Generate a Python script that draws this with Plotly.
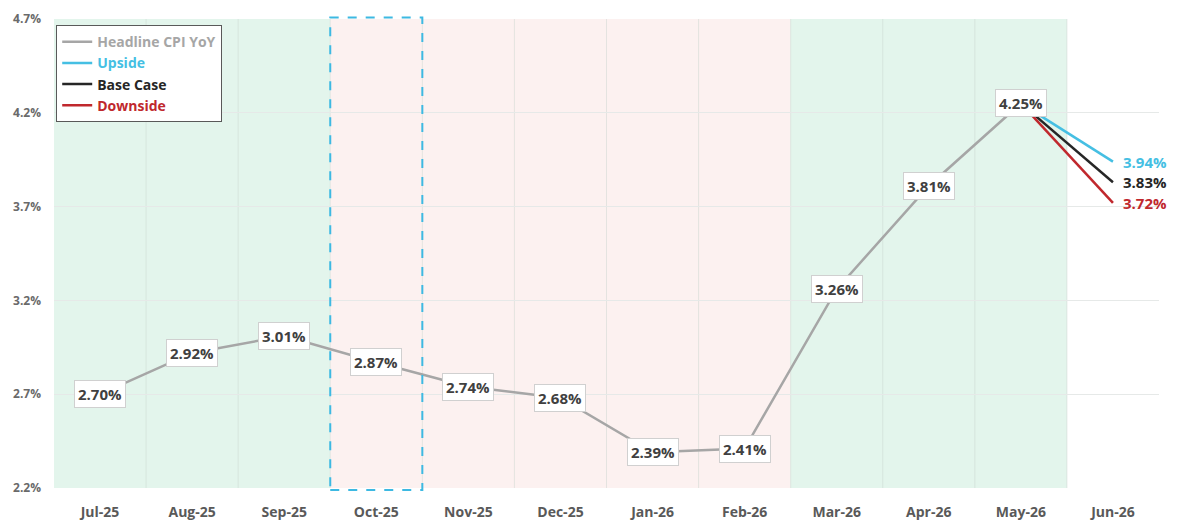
import plotly.graph_objects as go

months = ["Jul-25", "Aug-25", "Sep-25", "Oct-25", "Nov-25", "Dec-25",
          "Jan-26", "Feb-26", "Mar-26", "Apr-26", "May-26", "Jun-26"]
headline = [2.70, 2.92, 3.01, 2.87, 2.74, 2.68, 2.39, 2.41, 3.26, 3.81, 4.25]
scen_x = ["May-26", "Jun-26"]
upside = [4.25, 3.94]
base = [4.25, 3.83]
downside = [4.25, 3.72]
y_ticks = [2.2, 2.7, 3.2, 3.7, 4.2, 4.7]

C_GREY = "#A6A6A6"
C_UP = "#45BFE3"
C_BASE = "#262626"
C_DOWN = "#C0282D"
FONT = "Open Sans"

fig = go.Figure()
fig.add_trace(go.Scatter(x=months[:len(headline)], y=headline, mode="lines",
                         line=dict(color=C_GREY, width=2.5),
                         name=f'<b><span style="color:{C_GREY}">Headline CPI YoY</span></b>'))
fig.add_trace(go.Scatter(x=scen_x, y=upside, mode="lines",
                         line=dict(color=C_UP, width=2.5),
                         name=f'<b><span style="color:{C_UP}">Upside</span></b>'))
fig.add_trace(go.Scatter(x=scen_x, y=base, mode="lines",
                         line=dict(color=C_BASE, width=2.5),
                         name=f'<b><span style="color:{C_BASE}">Base Case</span></b>'))
fig.add_trace(go.Scatter(x=scen_x, y=downside, mode="lines",
                         line=dict(color=C_DOWN, width=2.5),
                         name=f'<b><span style="color:{C_DOWN}">Downside</span></b>'))

shapes = []
GREEN = "#E3F5EC"
PINK = "#FCF1F0"
shapes.append(dict(type="rect", xref="x", yref="paper", x0=-0.5, x1=2.5, y0=0, y1=1,
                   fillcolor=GREEN, line=dict(width=0), layer="below"))
shapes.append(dict(type="rect", xref="x", yref="paper", x0=2.5, x1=7.5, y0=0, y1=1,
                   fillcolor=PINK, line=dict(width=0), layer="below"))
shapes.append(dict(type="rect", xref="x", yref="paper", x0=7.5, x1=10.5, y0=0, y1=1,
                   fillcolor=GREEN, line=dict(width=0), layer="below"))
shapes.append(dict(type="rect", xref="x", yref="paper", x0=2.5, x1=3.5, y0=-0.004, y1=1.003,
                   fillcolor="rgba(0,0,0,0)", line=dict(color="#3DB9E2", width=2, dash="dash"),
                   layer="above"))
for i in range(len(months) - 1):
    shapes.append(dict(type="line", xref="x", yref="paper", x0=i + 0.5, x1=i + 0.5, y0=0, y1=1,
                       line=dict(color="rgba(200,210,205,0.45)", width=1), layer="below"))

annotations = []
for m, v in zip(months, headline):
    annotations.append(dict(x=m, y=v, xref="x", yref="y", text=f"<b>{v:.2f}%</b>",
                            showarrow=False, font=dict(family=FONT, size=15, color="#404040"),
                            bgcolor="white", bordercolor="#D0D0D0", borderwidth=1, borderpad=3))
for vals, col in [(upside, C_UP), (base, C_BASE), (downside, C_DOWN)]:
    annotations.append(dict(x=scen_x[-1], y=vals[-1], xref="x", yref="y",
                            text=f"<b>{vals[-1]:.2f}%</b>", showarrow=False,
                            xanchor="left", xshift=8,
                            font=dict(family=FONT, size=15, color=col)))

fig.update_layout(
    width=1180, height=525,
    margin=dict(l=54, r=21, t=19, b=37),
    paper_bgcolor="white", plot_bgcolor="white",
    font=dict(family=FONT, color="#595959"),
    shapes=shapes, annotations=annotations,
    showlegend=True,
    legend=dict(x=0.002, y=0.987, xanchor="left", yanchor="top",
                bgcolor="white", bordercolor="#595959", borderwidth=1,
                font=dict(family=FONT, size=14), itemwidth=30,
                tracegroupgap=0, traceorder="normal"),
    xaxis=dict(type="category", categoryorder="array", categoryarray=months,
               range=[-0.5, len(months) - 0.5], showgrid=False, zeroline=False,
               tickfont=dict(family=FONT, size=14, color="#595959"),
               ticks="", ticklabelstandoff=14, showline=False, automargin=False),
    yaxis=dict(range=[2.2, 4.7], tickvals=y_ticks,
               ticktext=[f"<b>{t:.1f}%</b>" for t in y_ticks],
               showgrid=True, gridcolor="#E6E9E8", gridwidth=1, zeroline=False,
               tickfont=dict(family=FONT, size=12, color="#6A6A6A"),
               ticks="", ticklabelstandoff=12, automargin=False),
)
fig.update_xaxes(tickvals=months, ticktext=[f"<b>{m}</b>" for m in months])

fig.write_html("out.html")
